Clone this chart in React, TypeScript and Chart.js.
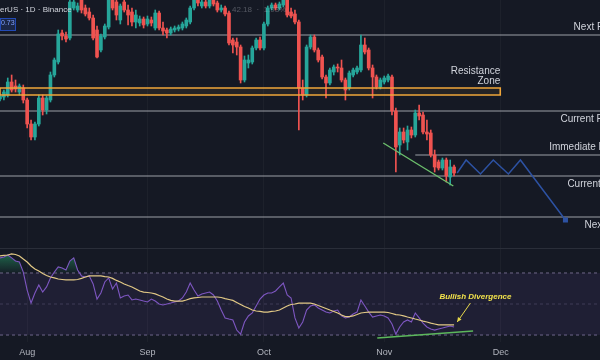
import React, { useEffect, useRef } from 'react';
import { Chart, registerables } from 'chart.js';

Chart.register(...registerables);

// ---------- DATA ----------
// day index: 0 = Aug 1
const days = [
  -7, -6, -5, -4, -3, -2, -1,
  0, 1, 2, 3, 4, 5, 6, 7, 8, 9,
  10, 11, 12, 13, 14, 15, 16, 17, 18, 19,
  20, 21, 22, 23, 24, 25, 26, 27, 28, 29,
  30, 31, 32, 33, 34, 35, 36, 37, 38, 39,
  40, 41, 42, 43, 44, 45, 46, 47, 48, 49,
  50, 51, 52, 53, 54, 55, 56, 57, 58, 59,
  60, 61, 62, 63, 64, 65, 66, 67, 68, 69,
  70, 71, 72, 73, 74, 75, 76, 77, 78, 79,
  80, 81, 82, 83, 84, 85, 86, 87, 88, 89,
  90, 91, 92, 93, 94, 95, 96, 97, 98, 99,
  100, 101, 102, 103, 104, 105, 106, 107, 108, 109,
  110,
];

const open = [
  40.1, 40.3, 40.5, 41.8, 41.4, 40.8, 41.2,
  40.0, 37.6, 36.3, 37.6, 40.2, 39.0, 40.0, 42.5, 43.8, 46.7,
  46.4, 46.2, 49.2, 49.0, 50.0, 49.2, 48.8, 48.2, 47.0, 45.0,
  46.3, 47.3, 50.0, 49.8, 48.0, 49.8, 49.0, 48.8, 47.8, 47.7,
  48.1, 47.6, 48.0, 47.2, 48.7, 47.2, 47.0, 46.7, 47.0, 47.1,
  47.2, 47.4, 47.8, 49.2, 50.2, 49.4, 49.8, 49.4, 50.0, 49.7,
  49.0, 49.2, 48.7, 46.0, 45.8, 45.3, 42.0, 43.7, 43.8, 45.2,
  46.0, 45.2, 47.6, 49.2, 49.5, 49.2, 49.5, 50.0, 48.8, 48.6,
  47.8, 41.2, 40.5, 45.3, 46.3, 45.0, 44.3, 42.3, 41.7, 42.8,
  43.3, 43.2, 42.0, 41.2, 42.5, 42.8, 43.0, 45.5, 45.0, 43.2,
  42.3, 41.3, 41.8, 42.0, 42.3, 38.9, 35.5, 36.8, 35.8, 37.0,
  36.5, 38.7, 38.5, 36.8, 36.7, 34.5, 33.8, 33.2, 34.0, 32.3,
  33.3,
];

const high = [
  40.6, 41.0, 42.2, 42.5, 42.0, 41.6, 41.5,
  40.2, 38.0, 37.8, 40.5, 40.5, 40.4, 42.8, 44.2, 47.0, 47.0,
  46.8, 50.2, 50.3, 49.7, 50.5, 49.5, 49.2, 48.5, 47.4, 46.6,
  47.6, 50.3, 50.4, 50.0, 49.6, 50.0, 49.5, 49.2, 49.0, 48.4,
  48.3, 48.4, 48.3, 49.0, 48.9, 47.8, 47.2, 47.3, 47.4, 47.5,
  47.8, 48.2, 49.4, 50.8, 50.6, 50.0, 50.0, 50.3, 50.3, 49.9,
  49.5, 49.4, 48.9, 46.2, 46.2, 45.5, 44.4, 44.5, 45.4, 46.2,
  46.3, 47.8, 49.4, 49.7, 49.7, 49.8, 50.3, 50.4, 49.2, 49.0,
  48.0, 42.0, 45.5, 46.5, 46.5, 45.2, 44.5, 42.5, 43.2, 43.5,
  43.6, 44.0, 42.2, 42.9, 43.2, 43.4, 46.5, 46.2, 45.2, 43.5,
  42.5, 42.2, 42.4, 42.6, 42.5, 39.2, 37.2, 37.2, 37.4, 37.3,
  39.0, 39.5, 38.8, 38.0, 37.0, 35.0, 34.0, 34.2, 34.2, 34.0,
  33.5,
];

const low = [
  39.9, 40.0, 40.3, 40.8, 40.8, 40.5, 39.7,
  37.2, 36.0, 36.0, 37.4, 38.5, 38.6, 39.8, 42.3, 43.6, 46.0,
  45.8, 46.0, 49.0, 48.8, 48.7, 48.4, 48.0, 46.0, 44.2, 44.8,
  46.1, 47.1, 49.0, 48.0, 47.6, 48.8, 47.5, 47.4, 47.2, 47.4,
  47.2, 47.4, 47.4, 47.0, 47.0, 46.5, 46.2, 46.5, 46.8, 46.9,
  47.0, 47.2, 47.6, 49.0, 49.4, 49.2, 49.2, 49.2, 49.4, 48.8,
  48.8, 48.4, 45.5, 44.7, 44.5, 41.7, 41.8, 43.2, 43.6, 45.0,
  45.0, 45.0, 47.4, 49.0, 49.0, 49.0, 49.3, 48.3, 48.2, 47.6,
  37.0, 40.0, 40.3, 45.1, 44.8, 43.8, 42.1, 40.2, 41.5, 42.5,
  42.8, 41.8, 40.0, 41.0, 42.3, 42.6, 42.8, 44.6, 43.0, 40.2,
  41.1, 41.1, 41.6, 41.8, 38.5, 32.8, 34.5, 35.7, 35.0, 36.2,
  36.3, 38.0, 36.6, 36.0, 34.3, 32.8, 33.0, 33.0, 31.8, 31.5,
  32.4,
];

const close = [
  40.4, 40.8, 41.8, 41.0, 41.1, 41.4, 40.0,
  37.6, 36.3, 37.6, 40.2, 39.0, 40.2, 42.5, 44.0, 46.6, 46.4,
  46.1, 49.8, 49.8, 49.4, 49.0, 48.6, 48.2, 46.2, 44.3, 46.4,
  47.4, 50.0, 49.2, 48.5, 49.4, 49.0, 48.5, 47.8, 48.5, 48.1,
  47.5, 48.1, 47.7, 48.7, 47.2, 46.9, 46.7, 47.1, 47.2, 47.3,
  47.6, 48.0, 49.2, 50.4, 49.7, 49.8, 49.4, 50.0, 49.6, 49.0,
  49.2, 48.6, 45.7, 45.5, 45.3, 42.0, 44.0, 44.0, 45.2, 46.0,
  45.2, 47.6, 49.2, 49.5, 49.2, 49.6, 50.0, 48.5, 48.4, 47.8,
  41.2, 40.5, 45.3, 46.3, 45.0, 44.0, 42.3, 41.7, 43.0, 43.3,
  43.2, 42.0, 41.0, 42.7, 43.0, 43.2, 45.5, 44.8, 43.2, 42.3,
  41.3, 42.0, 42.2, 42.4, 38.9, 35.3, 36.8, 36.0, 37.0, 36.5,
  38.7, 38.4, 36.8, 36.6, 34.5, 33.3, 33.2, 34.0, 32.4, 33.3,
  32.7,
];

const rsi = [
  79.7, 80.3, 81.6, 79.7, 77.7, 77.1, 70.6,
  59.0, 50.6, 57.1, 62.3, 57.7, 61.0, 66.8, 70.6, 73.9, 73.2,
  71.9, 77.7, 79.7, 71.9, 68.1, 67.4, 68.1, 62.9, 53.2, 57.1,
  64.2, 66.8, 59.7, 63.5, 53.9, 55.2, 55.8, 52.6, 53.2, 52.6,
  51.9, 51.3, 53.2, 51.9, 50.0, 49.4, 50.0, 50.6, 51.3, 51.9,
  53.9, 57.7, 63.5, 59.0, 55.2, 56.5, 57.1, 57.7, 55.8, 51.9,
  46.1, 41.0, 40.3, 39.7, 33.2, 30.6, 38.4, 42.3, 44.2, 48.7,
  53.2, 55.8, 57.1, 57.1, 58.4, 61.0, 63.5, 55.8, 53.9, 41.0,
  34.5, 38.4, 46.1, 48.7, 49.4, 47.4, 46.1, 44.8, 44.2, 45.5,
  46.1, 42.3, 41.0, 41.6, 43.5, 44.8, 52.6, 48.7, 44.8, 41.6,
  42.3, 42.9, 42.3, 41.0, 37.1, 30.6, 35.2, 38.4, 39.7, 38.4,
  44.2, 41.0, 37.7, 35.2, 33.9, 33.2, 33.9, 34.5, 35.2, 35.8,
  35.2,
];

const rsiMA = [
  81.0, 81.3, 81.6, 82.3, 81.9, 81.0, 79.0,
  77.1, 74.5, 72.6, 71.3, 69.7, 68.4, 67.4, 66.8, 66.1, 65.8,
  65.5, 65.5, 65.5, 65.8, 66.5, 67.4, 68.1, 68.1, 68.1, 68.1,
  67.7, 67.4, 66.5, 65.2, 64.2, 62.9, 61.9, 61.0, 59.7, 58.4,
  57.7, 57.4, 57.1, 56.5, 55.5, 54.5, 53.2, 52.3, 51.9, 51.9,
  51.9, 52.6, 53.5, 53.9, 54.2, 54.5, 54.5, 54.5, 54.5, 54.5,
  54.2, 53.5, 52.9, 52.3, 51.0, 49.7, 48.4, 47.4, 46.1, 45.5,
  45.2, 44.8, 44.8, 45.2, 45.5, 46.1, 47.4, 48.7, 49.7, 50.0,
  50.6, 50.6, 50.6, 50.6, 50.0, 49.0, 48.1, 47.1, 46.1, 45.2,
  44.2, 42.9, 41.9, 41.9, 42.3, 43.2, 44.2, 44.5, 44.8, 44.8,
  44.8, 44.8, 44.8, 44.5, 43.9, 43.2, 42.9, 42.3, 41.6, 41.0,
  40.3, 39.7, 39.0, 38.4, 37.7, 37.1, 36.5, 36.5, 36.5, 36.5,
  36.5,
];

const monthTickDays = [0, 31, 61, 92, 122];
const monthLabels = ['Aug', 'Sep', 'Oct', 'Nov', 'Dec'];

const levelNames = ['Next Resistance', 'Current Resistance', 'Immediate Resistance', 'Current Support', 'Next Support'];
const levelPrices = [46.5, 38.9, 34.5, 32.4, 28.3];
const levelStartDays = [-7, -7, 100, -7, -7];

const zoneTop = 41.2;
const zoneBottom = 40.5;
const zoneEndDay = 121.9;

const projectionDays = [110.8, 113.1, 116.8, 120.1, 124.0, 127.1, 138.7];
const projectionPrices = [32.7, 34.0, 32.6, 34.0, 32.6, 34.0, 28.0];

const trendDays = [91.75, 109.8];
const trendPrices = [35.7, 31.4];

const rsiLevels = [70, 50, 30];
const divergenceDays = [90.2, 114.9];
const divergenceRsi = [28.1, 32.6];
const arrowDays = [114.2, 110.8];
const arrowRsi = [50.6, 38.4];
const noteDay = 115.5;
const noteRsi = 54.5;

// ---------- LAYOUT / STYLE ----------
const X_MIN = -7;
const X_MAX = 147.6;
const PRICE_MIN = 25.2;
const PRICE_MAX = 50;
const RSI_MIN = 25.5;
const RSI_MAX = 86.1;

const levelLabelDays = [140.8, 137.4, 134.5, 139.2, 143.6];
const levelLabelAbove = [true, false, true, false, false];

const BG = '#151924';
const UP = '#26a69a';
const DOWN = '#ef5350';
const LEVEL = 'rgba(190,193,200,0.8)';
const ORANGE = '#f0a63a';
const BLUE = '#2d52a3';
const TEXT = '#d1d4dc';
const FONT = '"Liberation Sans", Arial, sans-serif';

const pts = (xs: number[], ys: number[]) => xs.map((x, i) => ({ x, y: ys[i] }));

const mainTextPlugin = {
  id: 'mainText',
  afterDatasetsDraw(chart: any) {
    const { ctx } = chart;
    const x = chart.scales.x;
    const y = chart.scales.y;
    ctx.save();
    ctx.font = `10px ${FONT}`;
    ctx.fillStyle = TEXT;
    ctx.textBaseline = 'middle';
    ctx.textAlign = 'left';
    levelNames.forEach((name, i) => {
      const px = x.getPixelForValue(levelLabelDays[i]);
      const py = y.getPixelForValue(levelPrices[i]) + (levelLabelAbove[i] ? -8 : 8);
      ctx.fillText(name, px, py);
    });
    ctx.textAlign = 'right';
    const zx = x.getPixelForValue(zoneEndDay);
    const zy = y.getPixelForValue(zoneTop);
    ctx.fillText('Resistance', zx, zy - 17);
    ctx.fillText('Zone', zx, zy - 7);

    // header
    ctx.textAlign = 'left';
    ctx.font = `8px ${FONT}`;
    ctx.fillStyle = TEXT;
    ctx.fillText('erUS · 1D · Binance', 0, 10);
    ctx.fillStyle = 'rgba(200,203,212,0.35)';
    ctx.fillText('42.18  ·  1.93%', 232, 10);
    ctx.fillStyle = '#1b2747';
    ctx.fillRect(0, 18, 16, 13);
    ctx.strokeStyle = 'rgba(41,98,255,0.6)';
    ctx.lineWidth = 1;
    ctx.strokeRect(0.5, 18.5, 15, 12);
    ctx.fillStyle = '#7ea0ff';
    ctx.font = `7px ${FONT}`;
    ctx.fillText('0.73', 1, 23);
    ctx.restore();
  },
};

const rsiTextPlugin = {
  id: 'rsiText',
  afterDatasetsDraw(chart: any) {
    const { ctx } = chart;
    const x = chart.scales.x;
    const y = chart.scales.y;
    ctx.save();
    // pane separator
    ctx.strokeStyle = '#2a2e39';
    ctx.lineWidth = 1;
    ctx.beginPath();
    ctx.moveTo(0, 0.5);
    ctx.lineTo(chart.width, 0.5);
    ctx.stroke();

    ctx.font = `italic bold 8px ${FONT}`;
    ctx.fillStyle = '#f2e34c';
    ctx.textAlign = 'center';
    ctx.textBaseline = 'middle';
    ctx.fillText('Bullish Divergence', x.getPixelForValue(noteDay), y.getPixelForValue(noteRsi));

    const x1 = x.getPixelForValue(arrowDays[0]);
    const y1 = y.getPixelForValue(arrowRsi[0]);
    const x2 = x.getPixelForValue(arrowDays[1]);
    const y2 = y.getPixelForValue(arrowRsi[1]);
    ctx.strokeStyle = '#e6d84a';
    ctx.lineWidth = 1;
    ctx.beginPath();
    ctx.moveTo(x1, y1);
    ctx.lineTo(x2, y2);
    ctx.stroke();
    const ang = Math.atan2(y2 - y1, x2 - x1);
    const len = 5;
    ctx.fillStyle = '#e6d84a';
    ctx.beginPath();
    ctx.moveTo(x2, y2);
    ctx.lineTo(x2 - len * Math.cos(ang - 0.45), y2 - len * Math.sin(ang - 0.45));
    ctx.lineTo(x2 - len * Math.cos(ang + 0.45), y2 - len * Math.sin(ang + 0.45));
    ctx.closePath();
    ctx.fill();
    ctx.restore();
  },
};

export default function App() {
  const mainRef = useRef<HTMLCanvasElement>(null);
  const rsiRef = useRef<HTMLCanvasElement>(null);

  useEffect(() => {
    document.body.style.margin = '0';
    document.body.style.background = BG;
    Chart.defaults.font.family = FONT;

    const candleColors = close.map((c, i) => (c >= open[i] ? UP : DOWN));
    const wickData = days.map((d, i) => ({ x: d, y: [low[i], high[i]] }));
    const bodyData = days.map((d, i) => ({ x: d, y: [open[i], close[i]] }));

    const levelSets = levelPrices.map((p, i) => ({
      type: 'line' as const,
      data: [{ x: levelStartDays[i], y: p }, { x: X_MAX, y: p }],
      borderColor: LEVEL,
      borderWidth: 1.2,
      pointRadius: 0,
      fill: false,
      order: 10,
    }));

    const mainChart = new Chart(mainRef.current!, {
      type: 'bar',
      data: {
        datasets: [
          ...levelSets,
          {
            type: 'line',
            data: [{ x: X_MIN, y: zoneTop }, { x: zoneEndDay, y: zoneTop }],
            borderWidth: 0,
            pointRadius: 0,
            fill: '+1',
            backgroundColor: 'rgba(240,166,58,0.07)',
            order: 9,
          },
          {
            type: 'line',
            data: [{ x: X_MIN, y: zoneBottom }, { x: zoneEndDay, y: zoneBottom }],
            borderWidth: 0,
            pointRadius: 0,
            fill: false,
            order: 9,
          },
          {
            type: 'bar',
            data: wickData as any,
            backgroundColor: candleColors,
            barThickness: 1,
            grouped: false,
            borderWidth: 0,
            order: 6,
          },
          {
            type: 'bar',
            data: bodyData as any,
            backgroundColor: candleColors,
            barThickness: 3,
            minBarLength: 1,
            grouped: false,
            borderWidth: 0,
            order: 5,
          },
          {
            type: 'line',
            data: [
              { x: X_MIN, y: zoneTop },
              { x: zoneEndDay, y: zoneTop },
              { x: zoneEndDay, y: zoneBottom },
              { x: X_MIN, y: zoneBottom },
              { x: X_MIN, y: zoneTop },
            ],
            borderColor: ORANGE,
            borderWidth: 1.6,
            pointRadius: 0,
            fill: false,
            order: 3,
          },
          {
            type: 'line',
            data: pts(trendDays, trendPrices),
            borderColor: '#6cbf6c',
            borderWidth: 1.4,
            pointRadius: 0,
            fill: false,
            order: 2,
          },
          {
            type: 'line',
            data: pts(projectionDays, projectionPrices),
            borderColor: BLUE,
            backgroundColor: BLUE,
            borderWidth: 1.5,
            pointRadius: projectionDays.map((_, i) => (i === projectionDays.length - 1 ? 2.5 : 0)),
            pointStyle: 'rect',
            fill: false,
            order: 1,
          },
        ] as any,
      },
      options: {
        responsive: false,
        animation: false,
        devicePixelRatio: 1,
        events: [],
        layout: { padding: 0, autoPadding: false },
        plugins: { legend: { display: false }, tooltip: { enabled: false } },
        scales: {
          x: {
            type: 'linear',
            min: X_MIN,
            max: X_MAX,
            offset: false,
            grid: { color: 'rgba(255,255,255,0.035)', drawTicks: false, offset: false },
            border: { display: false },
            ticks: { display: false },
            afterBuildTicks: (s: any) => {
              s.ticks = monthTickDays.map((v) => ({ value: v }));
            },
            afterFit: (s: any) => {
              s.height = 0;
            },
          },
          y: { type: 'linear', min: PRICE_MIN, max: PRICE_MAX, display: false },
        },
      } as any,
      plugins: [mainTextPlugin],
    });

    const flat = (v: number) => [{ x: X_MIN, y: v }, { x: X_MAX, y: v }];

    const rsiChart = new Chart(rsiRef.current!, {
      type: 'line',
      data: {
        datasets: [
          {
            data: pts(days, rsi),
            borderColor: '#7e57c2',
            borderWidth: 1.1,
            pointRadius: 0,
            fill: { target: { value: 70 }, below: 'rgba(0,0,0,0)' },
            backgroundColor: (c: any) => {
              const ch = c.chart;
              if (!ch.chartArea || !ch.scales || !ch.scales.y) return 'rgba(40,170,110,0.35)';
              const ys = ch.scales.y;
              const g = ch.ctx.createLinearGradient(0, ys.getPixelForValue(84), 0, ys.getPixelForValue(70));
              g.addColorStop(0, 'rgba(40,170,110,0.6)');
              g.addColorStop(1, 'rgba(40,170,110,0.04)');
              return g;
            },
            order: 2,
          },
          {
            data: pts(days, rsiMA),
            borderColor: '#e2c985',
            borderWidth: 1.2,
            pointRadius: 0,
            fill: false,
            order: 1,
          },
          {
            data: flat(rsiLevels[0]),
            borderColor: 'rgba(140,130,170,0.75)',
            borderDash: [3, 3],
            borderWidth: 1,
            pointRadius: 0,
            fill: '+1',
            backgroundColor: 'rgba(126,87,194,0.1)',
            order: 5,
          },
          {
            data: flat(rsiLevels[2]),
            borderColor: 'rgba(140,130,170,0.75)',
            borderDash: [3, 3],
            borderWidth: 1,
            pointRadius: 0,
            fill: false,
            order: 5,
          },
          {
            data: flat(rsiLevels[1]),
            borderColor: 'rgba(140,130,170,0.3)',
            borderDash: [3, 3],
            borderWidth: 1,
            pointRadius: 0,
            fill: false,
            order: 5,
          },
          {
            data: pts(divergenceDays, divergenceRsi),
            borderColor: '#5cb85c',
            borderWidth: 1.5,
            pointRadius: 0,
            fill: false,
            order: 0,
          },
        ] as any,
      },
      options: {
        responsive: false,
        animation: false,
        devicePixelRatio: 1,
        events: [],
        layout: { padding: 0, autoPadding: false },
        plugins: { legend: { display: false }, tooltip: { enabled: false } },
        scales: {
          x: {
            type: 'linear',
            min: X_MIN,
            max: X_MAX,
            offset: false,
            grid: { color: 'rgba(255,255,255,0.035)', drawTicks: false },
            border: { display: false },
            ticks: {
              color: '#b2b5be',
              font: { size: 9, family: FONT },
              padding: 5,
              autoSkip: false,
              maxRotation: 0,
              callback: (_v: any, i: number) => monthLabels[i],
            },
            afterBuildTicks: (s: any) => {
              s.ticks = monthTickDays.map((v) => ({ value: v }));
            },
            afterFit: (s: any) => {
              s.height = 18;
            },
          },
          y: { type: 'linear', min: RSI_MIN, max: RSI_MAX, display: false },
        },
      } as any,
      plugins: [rsiTextPlugin],
    });

    return () => {
      mainChart.destroy();
      rsiChart.destroy();
    };
  }, []);

  return (
    <div style={{ width: 600, height: 360, background: BG, overflow: 'hidden' }}>
      <canvas ref={mainRef} width={600} height={248} style={{ display: 'block' }} />
      <canvas ref={rsiRef} width={600} height={112} style={{ display: 'block' }} />
    </div>
  );
}
